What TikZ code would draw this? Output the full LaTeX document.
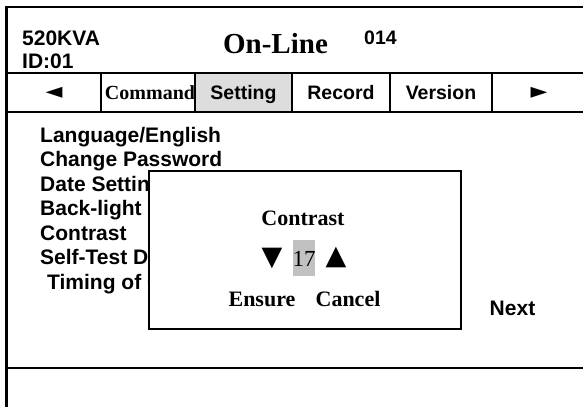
\documentclass[tikz,border=0pt]{standalone}
\usepackage{fontspec}
\setmainfont{Liberation Serif}
\setsansfont{Liberation Sans}
\newfontfamily\symfont{DejaVu Sans}
\begin{document}
\begin{tikzpicture}[x=1pt,y=-1pt,
  rule/.style={line width=2.6pt},
  sanstxt/.style={font=\sffamily\bfseries\fontsize{19.5}{23}\selectfont, inner sep=0pt},
  bigsans/.style={font=\sffamily\bfseries\fontsize{21}{25}\selectfont, inner sep=0pt},
  listtxt/.style={bigsans, anchor=base west},
  seriftxt/.style={font=\bfseries\fontsize{22}{26}\selectfont, inner sep=0pt, anchor=base},
  symtxt/.style={font=\symfont\fontsize{22}{26}\selectfont, inner sep=0pt},
  dlgsym/.style={font=\symfont\fontsize{27}{30}\selectfont, inner sep=0pt},
  dialogbox/.style={draw, fill=white, line width=1.5pt, inner sep=0pt, anchor=north west}]
\useasboundingbox (0,0) rectangle (583,407);
\fill[white] (0,0) rectangle (583,407);

% selected tab background
\fill[gray!27] (195,73) rectangle (292,112);

% frame rules
\draw[rule] (6.5,7) -- (583,7);
\draw[rule] (6.5,5.7) -- (6.5,407);
\draw[rule] (6.5,73) -- (583,73);
\draw[rule] (6.5,112) -- (583,112);
\draw[rule] (6.5,368) -- (583,368);
\foreach \x in {101,195,292,390,492}
  \draw[rule] (\x,73) -- (\x,112);

% header
\node[bigsans, anchor=base west] (model) at (22,45) {520KVA};
\node[bigsans, anchor=base west] (ident) at (22,68) {ID:01};
\node[font=\bfseries\fontsize{29}{34}\selectfont, inner sep=0pt, anchor=base] (mode) at (275.5,53) {On-Line};
\node[sanstxt, anchor=base west] (year) at (364,44) {014};

% tab bar
\node[symtxt] (prev) at (54,92.5) {◄};
\node[seriftxt, font=\bfseries\fontsize{20}{24}\selectfont] (tcmd) at (150,99) {Command};
\node[sanstxt, anchor=base] (tset) at (243.5,99) {Setting};
\node[sanstxt, anchor=base] (trec) at (341,99) {Record};
\node[sanstxt, anchor=base] (tver) at (441,99) {Version};
\node[symtxt] (next) at (539,92.5) {►};

% settings menu
\node[listtxt] (m1) at (40,142) {Language/English};
\node[listtxt] (m2) at (40,166) {Change Password};
\node[listtxt] (m3) at (40,191) {Date Setting};
\node[listtxt] (m4) at (40,215) {Back-light};
\node[listtxt] (m5) at (40,240) {Contrast};
\node[listtxt] (m6) at (40,264) {Self-Test D};
\node[listtxt] (m7) at (47,289) {Timing of O};
\node[bigsans, anchor=base] (pnext) at (512.5,315) {Next};

% contrast dialog
\node[dialogbox, minimum width=312pt, minimum height=158pt] (dlg) at (148,170) {};
\node[seriftxt] (dtitle) at (303,225.5) {Contrast};
\fill[gray!49] (292.7,240) rectangle (315,276);
\node[font=\fontsize{23}{27}\selectfont, inner sep=0pt, anchor=base] (dval) at (304,266) {17};
\node[dlgsym] (ddown) at (272,258) {▼};
\node[dlgsym] (dup) at (336,257) {▲};
\node[seriftxt] (dok) at (262,306) {Ensure};
\node[seriftxt] (dcancel) at (348,306) {Cancel};
\end{tikzpicture}
\end{document}
